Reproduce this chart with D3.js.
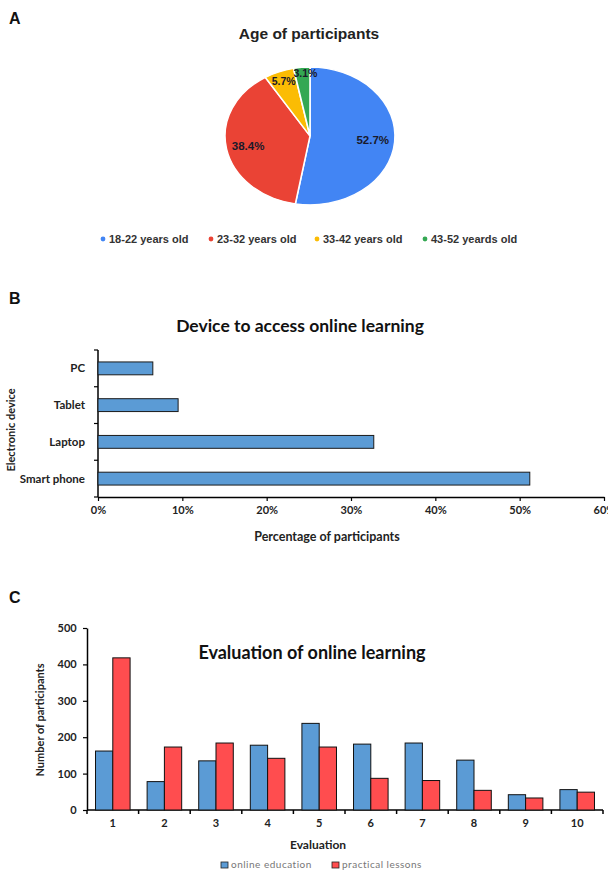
<!DOCTYPE html>
<html>
<head>
<meta charset="utf-8">
<script src="https://cdn.jsdelivr.net/npm/d3@7"></script>
<style>
  body { margin: 0; background: #fff; }
  svg { display: block; }
</style>
</head>
<body>
<svg id="figure"></svg>
<script>
// DATA
let ageLabels = ['18-22 years old', '23-32 years old', '33-42 years old', '43-52 yeards old']
let ageValues = [52.7, 38.4, 5.7, 3.1]

let devices = ['PC', 'Tablet', 'Laptop', 'Smart phone']
let deviceValues = [6.5, 9.5, 32.7, 51.2]
let deviceTicks = [0, 0.1, 0.2, 0.3, 0.4, 0.5, 0.6]

let evalScores = ['1', '2', '3', '4', '5', '6', '7', '8', '9', '10']
let onlineEducation = [162, 78, 135, 178, 238, 181, 184, 137, 42, 56]
let practicalLessons = [418, 173, 184, 142, 173, 87, 81, 54, 33, 49]
let evalTicks = [0, 100, 200, 300, 400, 500]
let evalSeries = ['online education', 'practical lessons']

let svgWidth = 608
let svgHeight = 872

let svg = d3.select('#figure')
    .attr('width', svgWidth)
    .attr('height', svgHeight)

let arialFont = '"Liberation Sans", Arial, sans-serif'
let bodyFont = 'Lato, "Open Sans", sans-serif'

// PANEL LETTERS
let letters = [['A', 24], ['B', 304], ['C', 603]]
letters.forEach(l => {
    svg.append('text')
        .attr('x', 9)
        .attr('y', l[1])
        .attr('font-family', arialFont)
        .attr('font-weight', 'bold')
        .attr('font-size', 16)
        .attr('fill', '#111')
        .text(l[0])
})

// ================= A: PIE =================
let pieColours = ['#4285f4', '#ea4335', '#fbbc04', '#34a853']
let pieCx = 310, pieCy = 136, pieR = 85, squash = 0.81

svg.append('text')
    .attr('x', 309)
    .attr('y', 39)
    .attr('text-anchor', 'middle')
    .attr('font-family', arialFont)
    .attr('font-weight', 'bold')
    .attr('font-size', 15.5)
    .attr('fill', '#222')
    .text('Age of participants')

let pie = d3.pie().sort(null).value(d => d)
let arcs = pie(ageValues)
let arc = d3.arc().innerRadius(0).outerRadius(pieR)

let pieG = svg.append('g')
    .attr('transform', `translate(${pieCx},${pieCy}) scale(1,${squash})`)

pieG.selectAll('path')
    .data(arcs)
    .join('path')
        .attr('d', arc)
        .attr('fill', (d, i) => pieColours[i])
        .attr('stroke', '#fff')
        .attr('stroke-width', 1.6)

// PIE LABELS
let labelRadius = d => d.value > 10 ? 63 : (d.value > 5 ? 72 : 78)
let labelPos = d => d3.arc().innerRadius(labelRadius(d)).outerRadius(labelRadius(d)).centroid(d)

svg.append('g')
    .selectAll('text')
    .data(arcs)
    .join('text')
        .attr('x', d => pieCx + labelPos(d)[0] + (d.value < 5 ? 3 : 0))
        .attr('y', d => pieCy + labelPos(d)[1] * squash)
        .attr('dy', '0.35em')
        .attr('text-anchor', 'middle')
        .attr('font-family', arialFont)
        .attr('font-weight', 'bold')
        .attr('font-size', d => d.value > 10 ? 11.5 : 10.5)
        .attr('fill', '#1a1a2a')
        .text(d => d.value.toFixed(1) + '%')

// PIE LEGEND
let legendX = [101, 209, 315, 423]
let legendA = svg.append('g')
ageLabels.forEach((label, i) => {
    legendA.append('circle')
        .attr('cx', legendX[i] + 2)
        .attr('cy', 239)
        .attr('r', 2.4)
        .attr('fill', pieColours[i])
    legendA.append('text')
        .attr('x', legendX[i] + 8)
        .attr('y', 239)
        .attr('dy', '0.35em')
        .attr('font-family', arialFont)
        .attr('font-weight', 'bold')
        .attr('font-size', 11)
        .attr('fill', '#333')
        .text(label)
})

// ================= B: HORIZONTAL BARS =================
let barFill = '#5b9bd5'
let bLeft = 98, bRight = 604, bTop = 350, bBottom = 497

svg.append('text')
    .attr('x', 300)
    .attr('y', 332)
    .attr('text-anchor', 'middle')
    .attr('font-family', bodyFont)
    .attr('font-weight', 'bold')
    .attr('font-size', 17.5)
    .attr('fill', '#111')
    .text('Device to access online learning')

let xB = d3.scaleLinear()
    .domain([0, 0.6])
    .range([bLeft, bRight])

let yB = d3.scaleBand()
    .domain(devices)
    .range([bTop, bBottom])
    .paddingInner(0.65)
    .paddingOuter(0.325)

// Y AXIS (category boundaries)
let yBound = d3.scaleLinear()
    .domain([0, devices.length])
    .range([bTop, bBottom])

let yAxisB = svg.append('g')
    .attr('transform', `translate(${bLeft},0)`)
yAxisB.append('line')
    .attr('y1', bTop)
    .attr('y2', bBottom)
    .attr('stroke', '#000')
    .attr('stroke-width', 1.5)
yAxisB.selectAll('.tick-b')
    .data(d3.range(devices.length + 1))
    .join('line')
        .attr('x1', -4)
        .attr('x2', 0)
        .attr('y1', d => yBound(d))
        .attr('y2', d => yBound(d))
        .attr('stroke', '#000')
        .attr('stroke-width', 1.2)

svg.append('g')
    .selectAll('text')
    .data(devices)
    .join('text')
        .attr('x', bLeft - 13)
        .attr('y', d => yB(d) + yB.bandwidth() / 2)
        .attr('dy', '0.35em')
        .attr('text-anchor', 'end')
        .attr('font-family', bodyFont)
        .attr('font-weight', 'bold')
        .attr('font-size', 11.5)
        .attr('fill', '#222')
        .text(d => d)

// X AXIS
svg.append('g')
    .attr('transform', `translate(0,${bBottom})`)
    .call(d3.axisBottom(xB).tickValues(deviceTicks).tickFormat(d3.format('.0%')).tickSize(4).tickSizeOuter(0))
    .call(g => g.select('.domain').attr('stroke-width', 1.5))
    .call(g => g.selectAll('.tick line').attr('stroke-width', 1.2))
    .call(g => g.selectAll('text')
        .attr('font-family', bodyFont)
        .attr('font-weight', 'bold')
        .attr('font-size', 11)
        .attr('fill', '#222')
        .attr('dy', '0.95em'))

// BARS
svg.append('g')
    .selectAll('rect')
    .data(devices)
    .join('rect')
        .attr('x', xB(0))
        .attr('y', d => yB(d))
        .attr('width', (d, i) => xB(deviceValues[i] / 100) - xB(0))
        .attr('height', yB.bandwidth())
        .attr('fill', barFill)
        .attr('stroke', '#1b1b1b')
        .attr('stroke-width', 1)

// AXIS TITLES
svg.append('text')
    .attr('x', 327)
    .attr('y', 541)
    .attr('text-anchor', 'middle')
    .attr('font-family', bodyFont)
    .attr('font-weight', 'bold')
    .attr('font-size', 12.5)
    .attr('fill', '#222')
    .text('Percentage of participants')

svg.append('text')
    .attr('transform', 'translate(15,430) rotate(-90)')
    .attr('text-anchor', 'middle')
    .attr('font-family', bodyFont)
    .attr('font-weight', 'bold')
    .attr('font-size', 11)
    .attr('fill', '#222')
    .text('Electronic device')

// ================= C: GROUPED BARS =================
let seriesColours = ['#5b9bd5', '#ff4d4f']
let cLeft = 87, cRight = 603, cTop = 628, cBottom = 810

svg.append('text')
    .attr('x', 312)
    .attr('y', 659)
    .attr('text-anchor', 'middle')
    .attr('font-family', bodyFont)
    .attr('font-weight', 'bold')
    .attr('font-size', 18)
    .attr('fill', '#111')
    .text('Evaluation of online learning')

let xC = d3.scaleBand()
    .domain(evalScores)
    .range([cLeft, cRight])
    .paddingInner(0.33)
    .paddingOuter(0.165)

let xCsub = d3.scaleBand()
    .domain(evalSeries)
    .range([0, xC.bandwidth()])

let yC = d3.scaleLinear()
    .domain([0, 500])
    .range([cBottom, cTop])

// Y AXIS
svg.append('g')
    .attr('transform', `translate(${cLeft},0)`)
    .call(d3.axisLeft(yC).tickValues(evalTicks).tickSize(4).tickSizeOuter(0))
    .call(g => g.select('.domain').attr('stroke-width', 1.5))
    .call(g => g.selectAll('.tick line').attr('stroke-width', 1.2))
    .call(g => g.selectAll('text')
        .attr('font-family', bodyFont)
        .attr('font-weight', 'bold')
        .attr('font-size', 11)
        .attr('fill', '#222')
        .attr('dx', '-0.3em'))

// X AXIS (boundaries + labels)
let xBound = d3.scaleLinear()
    .domain([0, evalScores.length])
    .range([cLeft, cRight])

let xAxisC = svg.append('g')
xAxisC.append('line')
    .attr('x1', cLeft)
    .attr('x2', cRight)
    .attr('y1', cBottom)
    .attr('y2', cBottom)
    .attr('stroke', '#000')
    .attr('stroke-width', 1.5)
xAxisC.selectAll('.tick-c')
    .data(d3.range(evalScores.length + 1))
    .join('line')
        .attr('x1', d => xBound(d))
        .attr('x2', d => xBound(d))
        .attr('y1', cBottom)
        .attr('y2', cBottom + 4)
        .attr('stroke', '#000')
        .attr('stroke-width', 1.5)
xAxisC.selectAll('text')
    .data(evalScores)
    .join('text')
        .attr('x', d => xC(d) + xC.bandwidth() / 2)
        .attr('y', 823)
        .attr('dy', '0.35em')
        .attr('text-anchor', 'middle')
        .attr('font-family', bodyFont)
        .attr('font-weight', 'bold')
        .attr('font-size', 11)
        .attr('fill', '#222')
        .text(d => d)

// BARS
let evalRows = evalScores.map((s, i) => ({
    label: s,
    'online education': onlineEducation[i],
    'practical lessons': practicalLessons[i]
}))

svg.append('g')
    .selectAll('g')
    .data(evalRows)
    .join('g')
        .attr('transform', d => `translate(${xC(d.label)},0)`)
    .selectAll('rect')
    .data(d => evalSeries.map(key => ({key: key, value: d[key]})))
    .join('rect')
        .attr('x', d => xCsub(d.key))
        .attr('y', d => yC(d.value))
        .attr('width', xCsub.bandwidth())
        .attr('height', d => yC(0) - yC(d.value))
        .attr('fill', (d, i) => seriesColours[i])
        .attr('stroke', '#111')
        .attr('stroke-width', 1)

// AXIS TITLES
svg.append('text')
    .attr('x', 318)
    .attr('y', 849)
    .attr('text-anchor', 'middle')
    .attr('font-family', bodyFont)
    .attr('font-weight', 'bold')
    .attr('font-size', 12)
    .attr('fill', '#222')
    .text('Evaluation')

svg.append('text')
    .attr('transform', 'translate(44,720) rotate(-90)')
    .attr('text-anchor', 'middle')
    .attr('font-family', bodyFont)
    .attr('font-weight', 'bold')
    .attr('font-size', 11)
    .attr('fill', '#222')
    .text('Number of participants')

// LEGEND
let legendC = svg.append('g')
let legendCX = [221, 332]
evalSeries.forEach((name, i) => {
    legendC.append('rect')
        .attr('x', legendCX[i])
        .attr('y', 862)
        .attr('width', 7)
        .attr('height', 6)
        .attr('fill', seriesColours[i])
        .attr('stroke', '#222')
        .attr('stroke-width', 0.8)
    legendC.append('text')
        .attr('x', legendCX[i] + 10)
        .attr('y', 865)
        .attr('dy', '0.33em')
        .attr('font-family', bodyFont)
        .attr('font-size', 10)
        .attr('letter-spacing', 0.5)
        .attr('fill', '#777')
        .text(name)
})
</script>
</body>
</html>
